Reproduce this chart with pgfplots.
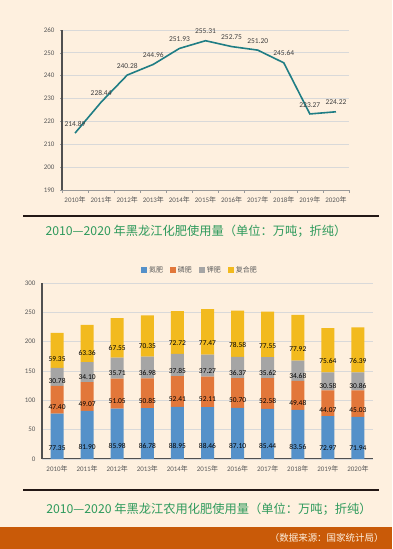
\documentclass[border=0pt]{standalone}
\usepackage{pgfplots}
\pgfplotsset{compat=1.18}
\usepackage{pgfplotstable}
\usepackage{fontspec}
\setmainfont{Carlito}
\newfontfamily\cjk{Noto Sans CJK SC}
\definecolor{bgc}{HTML}{FEF0DF}
\definecolor{bandc}{HTML}{C95A08}
\definecolor{teal1}{HTML}{1F7D84}
\definecolor{tgreen}{HTML}{2E9A5C}
\definecolor{cN}{HTML}{5591C9}
\definecolor{cP}{HTML}{E2773A}
\definecolor{cK}{HTML}{A5A5A5}
\definecolor{cC}{HTML}{F2BA1E}
\definecolor{rulec}{HTML}{231815}
\definecolor{tickc}{HTML}{595959}

\pgfplotstableread{
x n p k c
0 77.35 47.40 30.78 59.35
1 81.90 49.07 34.10 63.36
2 85.98 51.05 35.71 67.55
3 86.78 50.85 36.98 70.35
4 88.95 52.41 37.85 72.72
5 88.46 52.11 37.27 77.47
6 87.10 50.70 36.37 78.58
7 85.44 52.58 35.62 77.55
8 83.56 49.48 34.68 77.92
9 72.97 44.07 30.58 75.64
10 71.94 45.03 30.86 76.39
}\bars

\begin{document}
\begin{tikzpicture}[x=1bp,y=1bp]
\fill[bgc] (0,0) rectangle (392,549);
\path[use as bounding box] (0,0) rectangle (392,549);

% ---------- top line chart ----------
\begin{axis}[
  at={(62bp,359bp)}, anchor=south west, scale only axis,
  width=287bp, height=160bp,
  xmin=-0.5, xmax=10.5, ymin=190, ymax=260,
  ytick={190,200,...,260},
  xtick={0,...,10},
  xticklabels={2010{\cjk 年},2011{\cjk 年},2012{\cjk 年},2013{\cjk 年},2014{\cjk 年},2015{\cjk 年},2016{\cjk 年},2017{\cjk 年},2018{\cjk 年},2019{\cjk 年},2020{\cjk 年}},
  minor xtick={-0.5,0.5,...,10.5},
  axis x line=bottom, axis y line=left,
  x axis line style={-, draw=gray!80, line width=0.8bp},
  y axis line style={-, draw=tickc!90!black, line width=1.6bp},
  xtick style={draw=none},
  minor x tick style={draw=gray!80, line width=0.6bp},
  ytick style={draw=gray!80, line width=0.6bp},
  tick align=outside, major tick length=2bp, minor tick length=3bp,
  ymajorgrids, grid style={draw=black!15, line width=0.7bp},
  /pgf/number format/assume math mode=true,
  tick label style={font=\fontsize{7}{8}\selectfont, text=tickc},
  yticklabel style={xshift=-2bp},
  xticklabel style={yshift=-1bp},
  clip=false,
]
\addplot[teal1, line width=1.6bp, mark=none,
  nodes near coords,
  point meta=explicit symbolic,
  every node near coord/.style={font=\fontsize{7.5}{8}\selectfont, text=black!75, anchor=south, inner sep=1bp, yshift=5bp},
] coordinates {
(0,214.89) [214.89]
(1,228.44) [228.44]
(2,240.28) [240.28]
(3,244.96) [244.96]
(4,251.93) [251.93]
(5,255.31) [255.31]
(6,252.75) [252.75]
(7,251.20) [251.20]
(8,245.64) [245.64]
(9,223.27) [223.27]
(10,224.22) [224.22]
};
\end{axis}

\draw[line width=2.2bp, rulec] (23,333) -- (379,333);
\node[font=\cjk\fontsize{12.3}{14}\selectfont, text=tgreen] at (196,318) {2010—2020 年黑龙江化肥使用量（单位：万吨；折纯）};

% ---------- bottom stacked bar chart ----------
\begin{axis}[
  at={(42bp,90bp)}, anchor=south west, scale only axis,
  width=331bp, height=176bp,
  xmin=-0.5, xmax=10.5, ymin=0, ymax=300,
  ytick={0,50,...,300},
  xtick={0,...,10},
  xticklabels={2010{\cjk 年},2011{\cjk 年},2012{\cjk 年},2013{\cjk 年},2014{\cjk 年},2015{\cjk 年},2016{\cjk 年},2017{\cjk 年},2018{\cjk 年},2019{\cjk 年},2020{\cjk 年}},
  ybar stacked, bar width=13bp,
  axis x line=bottom, axis y line=left,
  x axis line style={-, draw=tickc!90!black, line width=1bp},
  y axis line style={-, draw=tickc!90!black, line width=1.4bp},
  xtick style={draw=none}, ytick style={draw=none},
  ymajorgrids, grid style={draw=black!15, line width=0.7bp},
  /pgf/number format/assume math mode=true,
  tick label style={font=\fontsize{7}{8}\selectfont, text=tickc},
  yticklabel style={xshift=-1bp},
  xticklabel style={yshift=-1bp},
  legend columns=4,
  legend style={at={(0.477,1.03)}, anchor=south, draw=none, fill=none,
    font=\cjk\fontsize{7}{8}\selectfont, text=tickc,
    /tikz/every even column/.append style={column sep=5bp}},
  legend image code/.code={\fill[#1] (0bp,-3bp) rectangle (6bp,3bp);},
  nodes near coords,
  point meta=explicit symbolic,
  every node near coord/.style={font=\fontsize{7.5}{8}\selectfont, text=black, anchor=center, inner sep=0bp,
     shift={(axis direction cs:0,-\pgfplotspointmeta/4)}},
  clip=false,
]
\addplot[fill=cN, draw=none] table[x=x, y=n, meta=n] {\bars};
\addplot[fill=cP, draw=none] table[x=x, y=p, meta=p] {\bars};
\addplot[fill=cK, draw=none] table[x=x, y=k, meta=k] {\bars};
\addplot[fill=cC, draw=none] table[x=x, y=c, meta=c] {\bars};
\legend{氮肥,磷肥,钾肥,复合肥}
\end{axis}

\draw[line width=2.2bp, rulec] (23,59) -- (379,59);
\node[font=\cjk\fontsize{12.3}{14}\selectfont, text=tgreen] at (209,40) {2010—2020 年黑龙江农用化肥使用量（单位：万吨；折纯）};

\fill[bandc] (0,0) rectangle (392,22);
\node[font=\cjk\fontsize{9.5}{11}\selectfont, text=bgc, anchor=east] at (387,11) {（数据来源：国家统计局）};
\end{tikzpicture}
\end{document}
